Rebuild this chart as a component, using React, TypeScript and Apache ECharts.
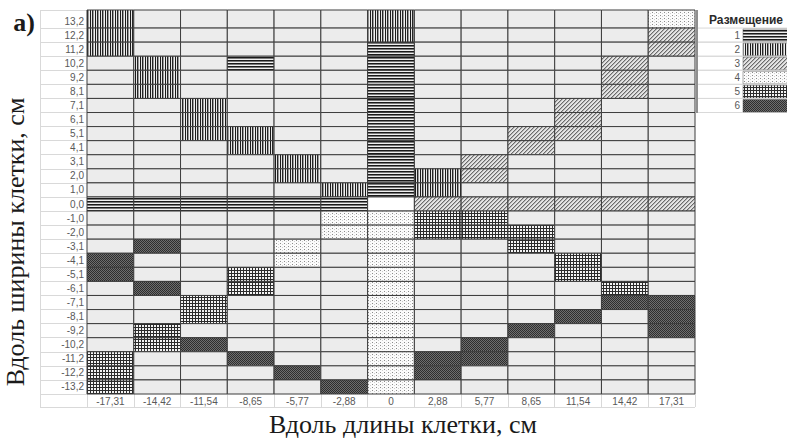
import React, { useEffect, useRef } from "react";
import * as echarts from "echarts";

const xCategories = ["-17,31", "-14,42", "-11,54", "-8,65", "-5,77", "-2,88", "0", "2,88", "5,77", "8,65", "11,54", "14,42", "17,31"];
const yCategories = ["13,2", "12,2", "11,2", "10,2", "9,2", "8,1", "7,1", "6,1", "5,1", "4,1", "3,1", "2,0", "1,0", "0,0", "-1,0", "-2,0", "-3,1", "-4,1", "-5,1", "-6,1", "-7,1", "-8,1", "-9,2", "-10,2", "-11,2", "-12,2", "-13,2"];

// placement per cell (row = y category from top, column = x category): 0 empty, -1 blank, 1..6 placement
const row13_2 = [2, 0, 0, 0, 0, 0, 2, 0, 0, 0, 0, 0, 4];
const row12_2 = [2, 0, 0, 0, 0, 0, 2, 0, 0, 0, 0, 0, 3];
const row11_2 = [2, 0, 0, 0, 0, 0, 1, 0, 0, 0, 0, 0, 3];
const row10_2 = [0, 2, 0, 1, 0, 0, 1, 0, 0, 0, 0, 3, 0];
const row9_2 = [0, 2, 0, 0, 0, 0, 1, 0, 0, 0, 0, 3, 0];
const row8_1 = [0, 2, 0, 0, 0, 0, 1, 0, 0, 0, 0, 3, 0];
const row7_1 = [0, 0, 2, 0, 0, 0, 1, 0, 0, 0, 3, 0, 0];
const row6_1 = [0, 0, 2, 0, 0, 0, 1, 0, 0, 0, 3, 0, 0];
const row5_1 = [0, 0, 2, 2, 0, 0, 1, 0, 0, 3, 3, 0, 0];
const row4_1 = [0, 0, 0, 2, 0, 0, 1, 0, 0, 3, 0, 0, 0];
const row3_1 = [0, 0, 0, 0, 2, 0, 1, 0, 3, 0, 0, 0, 0];
const row2_0 = [0, 0, 0, 0, 2, 0, 1, 2, 3, 0, 0, 0, 0];
const row1_0 = [0, 0, 0, 0, 0, 2, 1, 2, 0, 0, 0, 0, 0];
const row0_0 = [1, 1, 1, 1, 1, 1, -1, 3, 3, 3, 3, 3, 3];
const rowM1_0 = [0, 0, 0, 0, 0, 4, 4, 5, 5, 0, 0, 0, 0];
const rowM2_0 = [0, 0, 0, 0, 0, 4, 4, 5, 5, 5, 0, 0, 0];
const rowM3_1 = [0, 6, 0, 0, 4, 0, 4, 0, 0, 5, 0, 0, 0];
const rowM4_1 = [6, 0, 0, 0, 4, 0, 4, 0, 0, 0, 5, 0, 0];
const rowM5_1 = [6, 0, 0, 5, 0, 0, 4, 0, 0, 0, 5, 0, 0];
const rowM6_1 = [0, 6, 0, 5, 0, 0, 4, 0, 0, 0, 0, 5, 0];
const rowM7_1 = [0, 0, 5, 0, 0, 0, 4, 0, 0, 0, 0, 6, 6];
const rowM8_1 = [0, 0, 5, 0, 0, 0, 4, 0, 0, 0, 6, 0, 6];
const rowM9_2 = [0, 5, 0, 0, 0, 0, 4, 0, 0, 6, 0, 0, 6];
const rowM10_2 = [0, 5, 6, 0, 0, 0, 4, 0, 6, 0, 0, 0, 0];
const rowM11_2 = [5, 0, 0, 6, 0, 0, 4, 6, 6, 0, 0, 0, 0];
const rowM12_2 = [5, 0, 0, 0, 6, 0, 4, 6, 0, 0, 0, 0, 0];
const rowM13_2 = [5, 0, 0, 0, 0, 6, 4, 0, 0, 0, 0, 0, 0];

const placementRows = [
  row13_2, row12_2, row11_2, row10_2, row9_2, row8_1, row7_1, row6_1, row5_1, row4_1, row3_1, row2_0, row1_0,
  row0_0, rowM1_0, rowM2_0, rowM3_1, rowM4_1, rowM5_1, rowM6_1, rowM7_1, rowM8_1, rowM9_2, rowM10_2, rowM11_2,
  rowM12_2, rowM13_2,
];

const legendTypes = [1, 2, 3, 4, 5, 6];
const legendTitle = "Размещение";
const xTitle = "Вдоль длины клетки, см";
const yTitle = "Вдоль ширины клетки, см";
const panelLabel = "а)";

const EMPTY_FILL = "#ececec";
const CELL_STROKE = "#3d3d3d";
const LIGHT_LINE = "#d9d9d9";
const LABEL_COLOR = "#595959";
const TOP_EXTRA = 4;

function makeTile(w: number, h: number, paint: (x: number, y: number) => string) {
  const cv = document.createElement("canvas");
  cv.width = w;
  cv.height = h;
  const ctx = cv.getContext("2d")!;
  for (let y = 0; y < h; y++) {
    for (let x = 0; x < w; x++) {
      ctx.fillStyle = paint(x, y);
      ctx.fillRect(x, y, 1, 1);
    }
  }
  return { image: cv.toDataURL(), repeat: "repeat", imageWidth: w, imageHeight: h };
}

function buildPatterns(): Record<number, any> {
  const hCols = ["#1a1a1a", "#7a7a7a", "#f0f0f0"];
  const vCols = ["#1a1a1a", "#e8e8e8", "#262626", "#9a9a9a", "#f0f0f0"];
  return {
    1: makeTile(4, 3, (_x, y) => hCols[y]),
    2: makeTile(5, 4, (x) => vCols[x]),
    3: makeTile(4, 4, (x, y) => {
      const k = (x + y) % 4;
      return k === 0 ? "#6a6a6a" : k === 1 ? "#b4b4b4" : "#e4e4e4";
    }),
    4: makeTile(4, 3, (x, y) => (x === 0 && y === 0 ? "#8a8a8a" : x === 2 && y === 1 ? "#d0d0d0" : "#fbfbfb")),
    5: makeTile(3, 3, (x, y) => (x === 0 || y === 0 ? "#2c2c2c" : "#f4f4f4")),
    6: makeTile(2, 2, (x, y) => ((x + y) % 2 === 0 ? "#2e2e2e" : "#6e6e6e")),
  };
}

export default function App() {
  const ref = useRef<HTMLDivElement>(null);

  useEffect(() => {
    document.body.style.margin = "0";
    if (!ref.current) return;
    const chart = echarts.init(ref.current, undefined, { renderer: "svg" });
    const patterns = buildPatterns();

    const cellData: number[][] = [];
    placementRows.forEach((row, r) => {
      row.forEach((t, c) => cellData.push([c, r, t]));
    });
    const legendData = legendTypes.map((t, i) => [0, i + 1, t]);

    const labelFont = { fontFamily: "Liberation Sans", fontSize: 10, color: LABEL_COLOR };

    const option: any = {
      animation: false,
      grid: { left: 87, right: 92, top: 14, bottom: 45, containLabel: false },
      xAxis: {
        type: "category",
        data: xCategories,
        position: "bottom",
        axisLine: { show: false },
        axisTick: { show: true, length: 13, interval: 0, lineStyle: { color: LIGHT_LINE, width: 1 } },
        axisLabel: { ...labelFont, interval: 0, margin: 2 },
        splitLine: { show: false },
      },
      yAxis: {
        type: "category",
        data: yCategories,
        inverse: true,
        axisLine: { show: false },
        axisTick: {
          show: true,
          length: 47,
          interval: (idx: number) => idx !== 0,
          lineStyle: { color: LIGHT_LINE, width: 1 },
        },
        axisLabel: { ...labelFont, interval: 0, margin: 3 },
        splitLine: { show: false },
      },
      series: [
        {
          type: "custom",
          name: "cells",
          data: cellData,
          encode: { x: 0, y: 1 },
          clip: false,
          renderItem: (params: any, api: any) => {
            const xi = api.value(0) as number;
            const yi = api.value(1) as number;
            const t = api.value(2) as number;
            const c = api.coord([xi, yi]);
            const s = api.size([1, 1]) as number[];
            let x = c[0] - s[0] / 2;
            let y = c[1] - s[1] / 2;
            const w = s[0];
            let h = s[1];
            if (yi === 0) {
              y -= TOP_EXTRA;
              h += TOP_EXTRA;
            }
            const fill = t === 0 ? EMPTY_FILL : t < 0 ? "#ffffff" : patterns[t];
            return {
              type: "rect",
              shape: { x, y, width: w, height: h },
              style: { fill, stroke: CELL_STROKE, lineWidth: 1 },
            };
          },
        },
        {
          type: "custom",
          name: "legend",
          data: legendData,
          encode: { x: 0, y: 1 },
          clip: false,
          renderItem: (params: any, api: any) => {
            const yi = api.value(1) as number;
            const t = api.value(2) as number;
            const cs = params.coordSys;
            const right = cs.x + cs.width;
            const yc = api.coord([0, yi])[1];
            const h = (api.size([0, 1]) as number[])[1];
            const top = yc - h / 2;
            return {
              type: "group",
              children: [
                {
                  type: "line",
                  shape: { x1: right + 3, y1: top, x2: right + 100, y2: top },
                  style: { stroke: LIGHT_LINE, lineWidth: 1 },
                },
                {
                  type: "line",
                  shape: { x1: right + 3, y1: top + h, x2: right + 100, y2: top + h },
                  style: { stroke: LIGHT_LINE, lineWidth: 1 },
                },
                {
                  type: "text",
                  style: {
                    text: String(t),
                    x: right + 45,
                    y: yc,
                    textAlign: "right",
                    textVerticalAlign: "middle",
                    font: '10px "Liberation Sans"',
                    fill: LABEL_COLOR,
                  },
                },
                {
                  type: "rect",
                  shape: { x: right + 48, y: top + 1, width: 60, height: h - 1.5 },
                  style: { fill: patterns[t], stroke: "#555555", lineWidth: 0.5 },
                },
              ],
            };
          },
        },
      ],
      graphic: [
        { type: "line", shape: { x1: 40.5, y1: 10, x2: 40.5, y2: 407 }, style: { stroke: LIGHT_LINE, lineWidth: 1 } },
        { type: "line", shape: { x1: 40, y1: 10.5, x2: 87, y2: 10.5 }, style: { stroke: LIGHT_LINE, lineWidth: 1 } },
        { type: "line", shape: { x1: 40, y1: 407.5, x2: 695, y2: 407.5 }, style: { stroke: LIGHT_LINE, lineWidth: 1 } },
        { type: "line", shape: { x1: 697, y1: 10, x2: 697, y2: 113 }, style: { stroke: "#6a6a6a", lineWidth: 1.5 } },
        {
          type: "text",
          x: 24,
          y: 22,
          style: {
            text: panelLabel,
            textAlign: "center",
            textVerticalAlign: "middle",
            font: 'bold 26px "Liberation Serif"',
            fill: "#1a1a1a",
          },
        },
        {
          type: "text",
          x: 15,
          y: 242,
          rotation: Math.PI / 2,
          style: {
            text: yTitle,
            textAlign: "center",
            textVerticalAlign: "middle",
            font: '26px "Liberation Serif"',
            fill: "#1a1a1a",
          },
        },
        {
          type: "text",
          x: 403,
          y: 424,
          style: {
            text: xTitle,
            textAlign: "center",
            textVerticalAlign: "middle",
            font: '26px "Liberation Serif"',
            fill: "#1a1a1a",
          },
        },
        {
          type: "text",
          x: 746,
          y: 19.5,
          style: {
            text: legendTitle,
            textAlign: "center",
            textVerticalAlign: "middle",
            font: 'bold 12px "Liberation Sans"',
            fill: "#2a2a2a",
          },
        },
      ],
    };

    chart.setOption(option);
    return () => chart.dispose();
  }, []);

  return <div ref={ref} style={{ width: 787, height: 439 }} />;
}
